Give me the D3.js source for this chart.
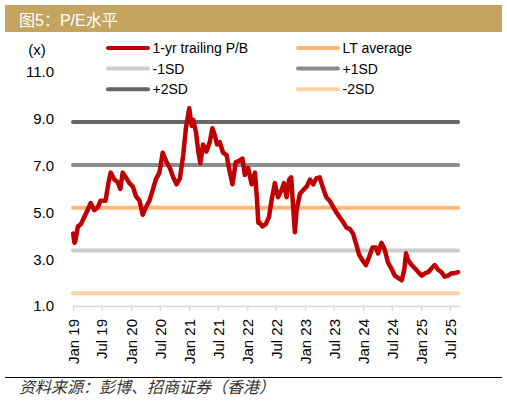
<!DOCTYPE html>
<html>
<head>
<meta charset="utf-8">
<script src="https://cdn.jsdelivr.net/npm/d3@7"></script>
<style>
  body { margin: 0; background: #fff; }
  text { font-family: "Liberation Sans", Arial, "Noto Sans CJK SC", sans-serif; }
</style>
</head>
<body>
<div id="chart"></div>
<script>
// series values
var dates = ["2019-01-02","2019-01-10","2019-01-16","2019-02-01","2019-02-20","2019-03-13","2019-04-03","2019-04-22","2019-05-15","2019-06-05","2019-06-24","2019-07-25","2019-08-12","2019-08-26","2019-09-19","2019-10-09","2019-10-26","2019-11-10","2019-11-29","2019-12-22","2020-01-13","2020-02-01","2020-02-24","2020-03-15","2020-04-03","2020-04-26","2020-05-17","2020-06-05","2020-06-28","2020-07-19","2020-08-12","2020-09-02","2020-09-23","2020-10-14","2020-11-04","2020-11-25","2020-12-12","2021-01-02","2021-01-17","2021-01-27","2021-02-14","2021-02-28","2021-03-13","2021-03-30","2021-04-20","2021-05-11","2021-05-28","2021-06-12","2021-06-26","2021-07-13","2021-08-03","2021-08-25","2021-09-15","2021-10-01","2021-10-22","2021-11-12","2021-12-03","2021-12-18","2022-01-08","2022-01-30","2022-02-20","2022-03-04","2022-03-13","2022-03-17","2022-04-08","2022-04-29","2022-05-19","2022-06-04","2022-06-25","2022-07-15","2022-08-06","2022-08-21","2022-09-07","2022-09-23","2022-10-06","2022-10-18","2022-10-29","2022-11-09","2022-11-30","2022-12-20","2023-01-11","2023-02-01","2023-02-22","2023-03-13","2023-04-03","2023-04-24","2023-05-15","2023-06-05","2023-06-26","2023-07-17","2023-08-07","2023-08-28","2023-09-19","2023-10-09","2023-10-30","2023-11-21","2023-12-07","2023-12-29","2024-01-19","2024-02-09","2024-03-01","2024-03-22","2024-04-05","2024-04-26","2024-05-17","2024-06-07","2024-06-28","2024-07-19","2024-08-09","2024-09-01","2024-09-17","2024-09-28","2024-10-12","2024-11-03","2024-11-24","2024-12-14","2025-01-05","2025-01-26","2025-02-16","2025-03-07","2025-03-28","2025-04-18","2025-05-09","2025-05-30","2025-06-20","2025-07-11","2025-08-01","2025-08-22"];
var trailing = [4.1,3.7,3.8,4.4,4.5,4.8,5.1,5.4,5.1,5.2,5.5,5.5,6.25,6.7,6.4,6.3,6.0,6.7,6.5,6.25,6.1,5.7,5.5,4.9,5.2,5.5,5.95,6.4,6.7,7.55,7.15,6.9,6.5,6.2,6.45,7.45,8.6,9.45,8.7,8.95,8.4,7.6,7.1,7.9,7.6,8.0,8.6,8.3,7.9,8.0,7.55,7.45,6.7,6.2,7.15,7.2,7.3,6.6,6.9,6.2,6.7,5.6,4.55,4.6,4.4,4.5,4.8,5.5,6.25,5.65,5.95,6.25,5.65,6.4,6.5,5.25,4.15,5.1,5.8,5.95,6.1,6.4,6.2,6.45,6.5,6.05,5.65,5.5,5.25,5.0,4.8,4.6,4.35,4.3,4.1,3.6,3.2,2.95,2.75,3.1,3.5,3.5,3.25,3.7,3.4,2.85,2.6,2.3,2.2,2.1,2.55,3.25,2.95,2.75,2.6,2.45,2.3,2.4,2.45,2.6,2.75,2.55,2.45,2.25,2.3,2.4,2.4,2.45];

var bandNames = ["LT average", "-1SD", "+1SD", "+2SD", "-2SD"];
var bandValues = [5.2, 3.37, 7.03, 8.86, 1.54];
var bandColors = ["#FFB878", "#CCCCCC", "#8C8C8C", "#666666", "#FFD2A6"];

var yTicks = [1, 3, 5, 7, 9, 11];
var xTicks = ["2019-01","2019-07","2020-01","2020-07","2021-01","2021-07","2022-01","2022-07","2023-01","2023-07","2024-01","2024-07","2025-01","2025-07"];

var parse = d3.timeParse("%Y-%m-%d");
var parseM = d3.timeParse("%Y-%m");

var width = 507, height = 403;
var svg = d3.select("#chart").append("svg")
    .attr("width", width)
    .attr("height", height);

// title band
svg.append("rect")
    .attr("x", 5).attr("y", 5)
    .attr("width", 497).attr("height", 27)
    .style("fill", "#C4A45F");
svg.append("text")
    .attr("x", 19).attr("y", 26)
    .style("font-size", "16px")
    .style("fill", "#FFFFFF")
    .text("图5：P/E水平");

var x = d3.scaleTime()
    .domain([parse("2019-01-01"), parse("2025-09-01")])
    .range([73, 459.7]);
var y = d3.scaleLinear()
    .domain([1, 11])
    .range([306, 72]);

// y labels, no axis line
svg.selectAll(".ylab").data(yTicks).enter().append("text")
    .attr("class", "ylab")
    .attr("x", 54)
    .attr("y", function(d) { return y(d); })
    .attr("dy", "0.36em")
    .attr("text-anchor", "end")
    .style("font-size", "15px")
    .style("fill", "#000")
    .text(function(d) { return d3.format(".1f")(d); });
svg.append("text")
    .attr("x", 37).attr("y", 55)
    .attr("text-anchor", "middle")
    .style("font-size", "15px")
    .text("(x)");

// x axis
var xAxis = d3.axisBottom(x)
    .tickValues(xTicks.map(parseM))
    .tickSize(5)
    .tickSizeOuter(0)
    .tickFormat(d3.timeFormat("%b %y"));
var gx = svg.append("g")
    .attr("transform", "translate(0," + y(1) + ")")
    .call(xAxis);
gx.select(".domain").attr("stroke", "#D9D9D9").attr("stroke-width", 1.5);
gx.selectAll(".tick line").attr("stroke", "#D9D9D9").attr("stroke-width", 1.5);
gx.selectAll(".tick text")
    .attr("x", 0).attr("y", 0)
    .attr("dy", "0.35em")
    .attr("text-anchor", "end")
    .attr("transform", "translate(0,13) rotate(-90)")
    .style("font-size", "15px")
    .style("font-family", "Liberation Sans, Arial, sans-serif")
    .style("fill", "#000");

// horizontal SD bands
var x0 = x(parse(dates[0])), x1 = x(parse(dates[dates.length - 1]));
svg.selectAll(".band").data(bandValues).enter().append("line")
    .attr("class", "band")
    .attr("x1", x(parse("2019-01-01")))
    .attr("x2", x1)
    .attr("y1", function(d) { return y(d); })
    .attr("y2", function(d) { return y(d); })
    .style("stroke", function(d, i) { return bandColors[i]; })
    .style("stroke-width", 4)
    .style("stroke-linecap", "round");

// trailing line
var line = d3.line()
    .x(function(d, i) { return x(parse(dates[i])); })
    .y(function(d) { return y(d); });
svg.append("path")
    .datum(trailing)
    .attr("d", line)
    .style("fill", "none")
    .style("stroke", "#C00000")
    .style("stroke-width", 4.5)
    .style("stroke-linejoin", "round")
    .style("stroke-linecap", "round");

// legend
var legNames = ["1-yr trailing P/B", "LT average", "-1SD", "+1SD", "+2SD", "-2SD"];
var legColors = ["#C00000", bandColors[0], bandColors[1], bandColors[2], bandColors[3], bandColors[4]];
var leg = svg.selectAll(".leg").data(legNames).enter().append("g")
    .attr("class", "leg")
    .attr("transform", function(d, i) {
        return "translate(" + (i % 2 == 0 ? 108 : 298) + "," + (48 + Math.floor(i / 2) * 20.6) + ")";
    });
leg.append("line")
    .attr("x1", 0).attr("x2", 40)
    .attr("y1", 0).attr("y2", 0)
    .style("stroke", function(d, i) { return legColors[i]; })
    .style("stroke-width", 4)
    .style("stroke-linecap", "round");
leg.append("text")
    .attr("x", 44.5).attr("y", 0)
    .attr("dy", "0.36em")
    .style("font-size", "14px")
    .style("fill", "#000")
    .text(function(d) { return d; });

// source footer
svg.append("line")
    .attr("x1", 5).attr("x2", 502)
    .attr("y1", 377.5).attr("y2", 377.5)
    .style("stroke", "#000")
    .style("stroke-width", 1);
svg.append("text")
    .attr("x", 19).attr("y", 393)
    .style("font-size", "16px")
    .style("font-style", "italic")
    .style("fill", "#333")
    .style("font-family", "Noto Sans CJK SC, sans-serif")
    .text("资料来源：彭博、招商证券（香港）");
</script>
</body>
</html>
